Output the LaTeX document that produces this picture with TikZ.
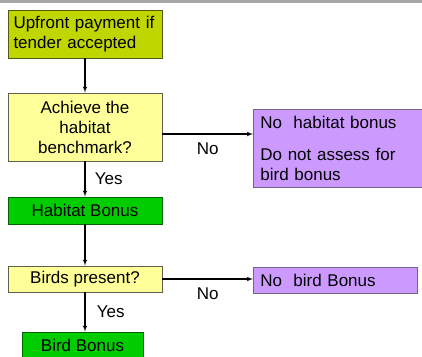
\documentclass[tikz,border=0pt]{standalone}
\usepackage{fontspec}
\setmainfont{Liberation Sans}
\usetikzlibrary{arrows}

\definecolor{limefill}{RGB}{192,214,0}
\definecolor{limeedge}{RGB}{80,90,20}
\definecolor{askfill}{RGB}{255,255,153}
\definecolor{askedge}{RGB}{95,95,80}
\definecolor{bonusfill}{RGB}{0,204,0}
\definecolor{bonusedge}{RGB}{0,100,0}
\definecolor{nofill}{RGB}{204,153,255}
\definecolor{noedge}{RGB}{115,100,135}

\begin{document}
\begin{tikzpicture}[x=1pt, y=-1pt, font=\fontsize{17}{20}\selectfont]
        \tikzstyle{block} = [rectangle, draw, line width=0.8pt, inner xsep=7pt, inner ysep=0pt, minimum width=154pt]
        \tikzstyle{ask} = [block, fill=askfill, draw=askedge, align=center]
        \tikzstyle{bonus} = [block, fill=bonusfill, draw=bonusedge, minimum height=27pt]
        \tikzstyle{nobox} = [block, fill=nofill, draw=noedge, align=left, anchor=north west]
        \tikzstyle{line} = [draw, line width=1.1pt, -latex']

        \useasboundingbox (0,0) rectangle (422,356);
        \clip (0,0) rectangle (422,356);
        \fill [black!35] (0,0) rectangle (422,2.5);

        \node [block, fill=limefill, draw=limeedge, text width=143pt, align=left, minimum height=48pt, inner xsep=5.5pt] (pay) at (85,34) {Upfront payment if\\tender accepted};
        \node [ask, minimum height=68pt] (habitat) at (85,127) {Achieve the\\habitat\\benchmark?};
        \node [nobox, text width=166pt, minimum height=78pt] (nohabitat) at (253,109) {No\ \ habitat bonus\\[12pt]Do not assess for\\bird bonus};
        \node [bonus] (habbonus) at (85,210.5) {Habitat Bonus};
        \node [ask, minimum height=26pt] (birds) at (85,279) {Birds present?};
        \node [nobox, text width=150pt, minimum width=164pt, minimum height=26pt] (nobird) at (253,267) {No\ \ bird Bonus};
        \node [bonus, minimum width=121pt] (birdbonus) at (82.5,345.5) {Bird Bonus};

        \path [line] (pay) -- (habitat);
        \path [line] ([yshift=-7pt]habitat.east) -- node [below=5pt] {No} ([yshift=-7pt]habitat.east -| nohabitat.west);
        \path [line] (habitat) -- node [right=6pt] {Yes} (habbonus);
        \path [line] (habbonus) -- (birds);
        \path [line] (birds.east) -- node [below=5pt] {No} (birds.east -| nobird.west);
        \path [line] (birds) -- node [right=8pt] {Yes} (birds |- birdbonus.north);
    \end{tikzpicture}
\end{document}
